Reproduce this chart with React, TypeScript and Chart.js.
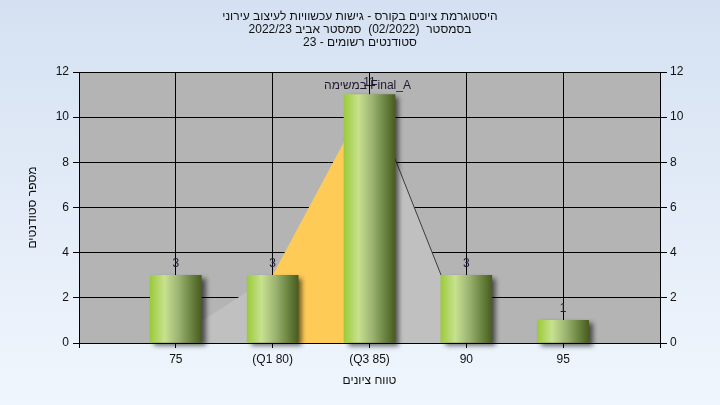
import React, { useEffect, useRef } from 'react';
import { Chart, registerables } from 'chart.js';

Chart.register(...registerables);

// ---- data ----
const titleLines = [
  'היסטוגרמת ציונים בקורס - גישות עכשוויות לעיצוב עירוני',
  'בסמסטר  (02/2022)  סמסטר אביב 2022/23',
  'סטודנטים רשומים - 23',
];
const xAxisTitle = 'טווח ציונים';
const yAxisTitle = 'מספר סטודנטים';
const seriesLabel = 'במשימה Final_A';

const binValues = [75, 80, 85, 90, 95];
const studentCounts = [3, 3, 11, 3, 1];

const xTickValues = [70, 75, 80, 85, 90, 95, 100];
const xTickLabels = ['', '75', '(Q1 80)', '(Q3 85)', '90', '95', ''];

// frequency polygon (light grey area)
const polygonX = [74.6, 80, 85, 88.7, 90];
const polygonY = [0, 3, 11, 3, 0];
// interquartile range shading (Q1..Q3)
const iqrX = [80, 85];
const iqrY = [3, 11];
// dark outline on the descending side
const edgeX = [85, 88.7];
const edgeY = [11, 3];

// ---- styles ----
const FONT = '"Liberation Sans", Arial, sans-serif';
const BAR_W = 51;

const pts = (xs: number[], ys: number[]) => xs.map((x, i) => ({ x, y: ys[i] }));

const backgroundPlugin = {
  id: 'bgPlugin',
  beforeDraw(chart: any) {
    const { ctx, width, height, chartArea } = chart;
    ctx.save();
    const g = ctx.createLinearGradient(0, 0, 0, height);
    g.addColorStop(0, '#D5E1F2');
    g.addColorStop(1, '#F0F6FD');
    ctx.fillStyle = g;
    ctx.fillRect(0, 0, width, height);
    ctx.fillStyle = '#B4B4B4';
    ctx.fillRect(chartArea.left, chartArea.top, chartArea.right - chartArea.left, chartArea.bottom - chartArea.top);
    ctx.restore();
  },
};

const BAR_INDEX = 3;

const shadowPlugin = {
  id: 'barShadow',
  beforeDatasetDraw(chart: any, args: any) {
    if (args.index !== BAR_INDEX) return;
    const ctx = chart.ctx;
    args.meta.data.forEach((el: any) => {
      const half = el.width / 2;
      if (!isFinite(el.x) || !isFinite(half)) return;
      const g = ctx.createLinearGradient(el.x - half, 0, el.x + half, 0);
      g.addColorStop(0, '#9BCB3B');
      g.addColorStop(0.28, '#C7E18F');
      g.addColorStop(0.55, '#9DB472');
      g.addColorStop(0.8, '#6B8440');
      g.addColorStop(1, '#485D20');
      el.options = { ...el.options, backgroundColor: g };
    });
    ctx.save();
    ctx.shadowColor = 'rgba(0,0,0,0.6)';
    ctx.shadowBlur = 5;
    ctx.shadowOffsetX = 4;
    ctx.shadowOffsetY = 3;
  },
  afterDatasetDraw(chart: any, args: any) {
    if (args.index !== BAR_INDEX) return;
    chart.ctx.restore();
  },
};

const labelPlugin = {
  id: 'valueLabels',
  afterDatasetsDraw(chart: any) {
    const ctx = chart.ctx;
    const meta = chart.getDatasetMeta(BAR_INDEX);
    const xs = chart.scales.x;
    const ys = chart.scales.y;
    ctx.save();
    ctx.direction = 'ltr';
    ctx.font = `12px ${FONT}`;
    ctx.textAlign = 'center';
    ctx.textBaseline = 'middle';
    const peak = studentCounts.indexOf(Math.max(...studentCounts));
    ctx.fillStyle = '#1E1A30';
    ctx.fillText(seriesLabel, xs.getPixelForValue(binValues[peak]) - 2, ys.getPixelForValue(studentCounts[peak]) - 9);
    ctx.fillStyle = '#1C1C34';
    meta.data.forEach((el: any, i: number) => {
      ctx.fillText(String(studentCounts[i]), el.x, el.y - 12);
    });
    ctx.restore();
  },
};

export default function App() {
  const ref = useRef<HTMLCanvasElement>(null);
  useEffect(() => {
    document.body.style.margin = '0';
    const canvas = ref.current!;
    const chart = new Chart(canvas, {
      type: 'bar',
      data: {
        datasets: [
          {
            type: 'line',
            data: pts(polygonX, polygonY),
            fill: 'origin',
            backgroundColor: '#C0C0C0',
            borderColor: 'rgba(0,0,0,0)',
            borderWidth: 0,
            pointRadius: 0,
            tension: 0,
            order: 3,
          } as any,
          {
            type: 'line',
            data: pts(iqrX, iqrY),
            fill: 'origin',
            backgroundColor: '#FECB57',
            borderColor: 'rgba(0,0,0,0)',
            borderWidth: 0,
            pointRadius: 0,
            tension: 0,
            order: 2,
          } as any,
          {
            type: 'line',
            data: pts(edgeX, edgeY),
            fill: false,
            borderColor: '#3C3C3C',
            borderWidth: 1,
            pointRadius: 0,
            tension: 0,
            order: 1,
          } as any,
          {
            type: 'bar',
            data: pts(binValues, studentCounts),
            backgroundColor: '#9BCB3B',
            borderWidth: 0,
            barThickness: BAR_W,
            clip: false,
            order: 0,
          } as any,
        ],
      },
      options: {
        responsive: false,
        animation: false,
        devicePixelRatio: 1,
        layout: { padding: 0 },
        plugins: {
          legend: { display: false },
          tooltip: { enabled: false },
          title: {
            display: true,
            text: titleLines,
            color: '#111',
            font: { family: FONT, size: 12, weight: 'normal', lineHeight: 1.05 },
            padding: { top: 10.7, bottom: 23.5 },
          },
        },
        scales: {
          x: {
            type: 'linear',
            min: 70,
            max: 100,
            offset: false,
            ticks: {
              stepSize: 5,
              autoSkip: false,
              maxRotation: 0,
              color: '#111',
              font: { family: FONT, size: 12 },
              padding: 4,
              callback: (v: any) => {
                const i = xTickValues.indexOf(Number(v));
                return i >= 0 ? xTickLabels[i] : '';
              },
            },
            grid: { color: '#000', lineWidth: 1, tickLength: 5, offset: false },
            border: { color: '#000' },
            title: {
              display: true,
              text: xAxisTitle,
              color: '#111',
              font: { family: FONT, size: 12 },
              padding: { top: 0, bottom: 16.8 },
            },
            afterFit: (s: any) => { s.height = 62; },
          } as any,
          y: {
            position: 'left',
            min: 0,
            max: 12,
            ticks: { stepSize: 2, color: '#111', font: { family: FONT, size: 12 }, padding: 4 },
            grid: { color: '#000', lineWidth: 1, tickLength: 6 },
            border: { color: '#000' },
            title: {
              display: true,
              text: yAxisTitle,
              color: '#111',
              font: { family: FONT, size: 12 },
              padding: { top: 25.8, bottom: 0 },
            },
            afterFit: (s: any) => { s.width = 79; },
          } as any,
          y2: {
            position: 'right',
            min: 0,
            max: 12,
            ticks: { stepSize: 2, color: '#111', font: { family: FONT, size: 12 }, padding: 3 },
            grid: { drawOnChartArea: false, color: '#000', tickLength: 7 },
            border: { color: '#000' },
            afterFit: (s: any) => { s.width = 60; },
          } as any,
        },
      },
      plugins: [backgroundPlugin, shadowPlugin, labelPlugin],
    });
    return () => chart.destroy();
  }, []);
  return (
    <div style={{ width: 720, height: 405 }}>
      <canvas
        ref={ref}
        width={720}
        height={405}
        dir="rtl"
        style={{ width: '720px', height: '405px', display: 'block', direction: 'rtl' }}
      />
    </div>
  );
}
